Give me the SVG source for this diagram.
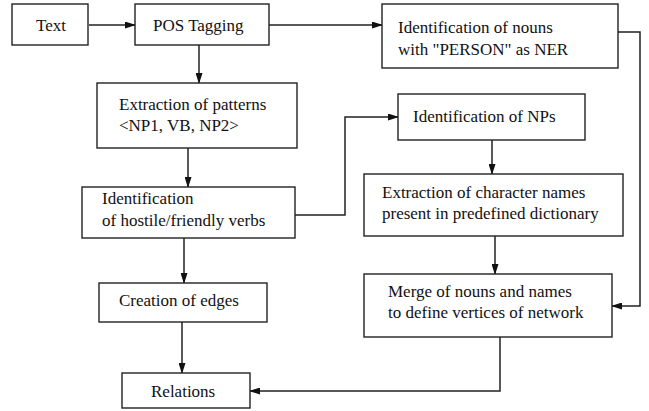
<svg xmlns="http://www.w3.org/2000/svg" width="649" height="411" viewBox="0 0 649 411">
<style>
.box{fill:#fff;stroke:#222;stroke-width:1.4}
.t{font-family:'Liberation Serif','Times New Roman',Times,'DejaVu Serif',serif;font-size:17px;fill:#111}
.c{fill:none;stroke:#222;stroke-width:1.5}
</style>
<defs>
<marker id="ah" markerWidth="11" markerHeight="7" refX="10" refY="3.5" orient="auto" markerUnits="userSpaceOnUse">
<path d="M0,0 L11,3.5 L0,7 z" fill="#111"/>
</marker>
</defs>
<rect width="649" height="411" fill="#fff"/>
<g id="connectors">
<path class="c" d="M89,25 H135" marker-end="url(#ah)"/>
<path class="c" d="M269,25 H382" marker-end="url(#ah)"/>
<path class="c" d="M199,45 V83" marker-end="url(#ah)"/>
<path class="c" d="M618,32 H640 V306 H612" marker-end="url(#ah)"/>
<path class="c" d="M188,148 V187" marker-end="url(#ah)"/>
<path class="c" d="M295,215 H345 V117 H398" marker-end="url(#ah)"/>
<path class="c" d="M492,140 V174" marker-end="url(#ah)"/>
<path class="c" d="M495,236 V274" marker-end="url(#ah)"/>
<path class="c" d="M184,238 V283" marker-end="url(#ah)"/>
<path class="c" d="M182,322 V373" marker-end="url(#ah)"/>
<path class="c" d="M500,337 V391 H250" marker-end="url(#ah)"/>
</g>
<g id="text-node"><rect class="box" x="12" y="4" width="76" height="41"/><text class="t" font-family="Liberation Serif, serif" x="51" y="31" text-anchor="middle">Text</text></g>
<g id="pos-tagging"><rect class="box" x="135" y="4" width="134" height="41"/><text class="t" x="153" y="31">POS Tagging</text></g>
<g id="ner-nouns"><rect class="box" x="382" y="4" width="236" height="64"/><text class="t" x="398" y="33">Identification of nouns</text><text class="t" x="398" y="55">with "PERSON" as NER</text></g>
<g id="patterns"><rect class="box" x="97" y="83" width="200" height="65"/><text class="t" x="119" y="110">Extraction of patterns</text><text class="t" x="119" y="131">&lt;NP1, VB, NP2&gt;</text></g>
<g id="verbs"><rect class="box" x="82" y="187" width="213" height="51"/><text class="t" x="102" y="204">Identification</text><text class="t" x="102" y="226">of hostile/friendly verbs</text></g>
<g id="nps"><rect class="box" x="398" y="94" width="187" height="46"/><text class="t" x="413" y="122">Identification of NPs</text></g>
<g id="char-names"><rect class="box" x="364" y="174" width="259" height="62"/><text class="t" x="382" y="198">Extraction of character names</text><text class="t" x="382" y="219">present in predefined dictionary</text></g>
<g id="merge"><rect class="box" x="364" y="274" width="248" height="63"/><text class="t" x="388" y="297">Merge of nouns and names</text><text class="t" x="388" y="318">to define vertices of network</text></g>
<g id="edges"><rect class="box" x="99" y="283" width="168" height="39"/><text class="t" x="119" y="306">Creation of edges</text></g>
<g id="relations"><rect class="box" x="122" y="373" width="128" height="35"/><text class="t" x="151" y="397">Relations</text></g>
</svg>
